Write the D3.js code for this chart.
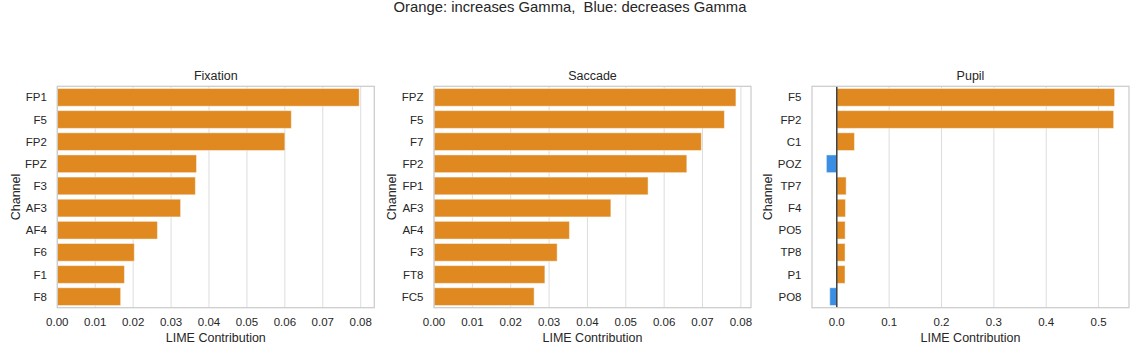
<!DOCTYPE html>
<html>
<head>
<meta charset="utf-8">
<script src="https://d3js.org/d3.v7.min.js"></script>
<style>
  body { margin: 0; background: #fff; }
  text { font-family: "Liberation Sans", Arial, sans-serif; fill: #262626; white-space: pre; }
</style>
</head>
<body>
<div id="chart"></div>
<script>
// LIME contributions
var fixChannels = ["FP1", "F5", "FP2", "FPZ", "F3", "AF3", "AF4", "F6", "F1", "F8"];
var fixValues = [0.0796, 0.0617, 0.0600, 0.0367, 0.0364, 0.0325, 0.0264, 0.0203, 0.0177, 0.0167];

var sacChannels = ["FPZ", "F5", "F7", "FP2", "FP1", "AF3", "AF4", "F3", "FT8", "FC5"];
var sacValues = [0.0787, 0.0757, 0.0697, 0.0659, 0.0558, 0.0461, 0.0353, 0.0321, 0.0289, 0.0261];

var pupChannels = ["F5", "FP2", "C1", "POZ", "TP7", "F4", "PO5", "TP8", "P1", "PO8"];
var pupValues = [0.5306, 0.5288, 0.0338, -0.0198, 0.0179, 0.0166, 0.0160, 0.0158, 0.0157, -0.0134];

var panelTitles = ["Fixation", "Saccade", "Pupil"];
var tickFormats = [".2f", ".2f", ".1f"];
var suptitle = "Orange: increases Gamma,  Blue: decreases Gamma";

var W = 1142, H = 358;
var orange = "#df8920", blue = "#3a8fe3";
var grey = "#cccccc";

var panelLeft = [57.3, 434, 812];
var panelW = 317;
var plotTop = 86.3, plotH = 221.4;

var svg = d3.select("#chart").append("svg")
    .attr("width", W)
    .attr("height", H);

svg.append("text")
    .attr("x", 570)
    .attr("y", 11.5)
    .attr("text-anchor", "middle")
    .style("font-size", "14.8px")
    .text(suptitle);

var panels = [
  {ch: fixChannels, v: fixValues},
  {ch: sacChannels, v: sacValues},
  {ch: pupChannels, v: pupValues}
];

panels.forEach(function (p, k) {
  var lo = Math.min(0, d3.min(p.v)), hi = Math.max(0, d3.max(p.v));
  var pad = (hi - lo) * 0.05;
  var x = d3.scaleLinear()
      .domain([lo < 0 ? lo - pad : 0, hi + pad])
      .range([0, panelW]);
  var y = d3.scaleBand()
      .domain(p.ch)
      .range([0, plotH])
      .paddingInner(0.2)
      .paddingOuter(0.1);

  var g = svg.append("g")
      .attr("transform", "translate(" + panelLeft[k] + "," + plotTop + ")");

  // vertical grid
  var ticks = x.ticks(k == 2 ? 6 : 10).filter(function (t) { return t >= x.domain()[0] - 1e-9; });
  g.selectAll(".grid")
      .data(ticks)
      .enter().append("line")
      .attr("x1", function (d) { return x(d); })
      .attr("x2", function (d) { return x(d); })
      .attr("y1", 0)
      .attr("y2", plotH)
      .attr("stroke", "#dddddd")
      .attr("stroke-width", 1);

  g.selectAll(".bar")
      .data(p.v)
      .enter().append("rect")
      .attr("x", function (d) { return x(Math.min(0, d)); })
      .attr("y", function (d, i) { return y(p.ch[i]); })
      .attr("width", function (d) { return Math.abs(x(d) - x(0)); })
      .attr("height", y.bandwidth())
      .attr("fill", function (d) { return d < 0 ? blue : orange; })
      .attr("stroke", "#ffffff")
      .attr("stroke-opacity", 0.45)
      .attr("stroke-width", 1);

  if (lo < 0) {
    g.append("line")
        .attr("x1", x(0)).attr("x2", x(0))
        .attr("y1", 0).attr("y2", plotH)
        .attr("stroke", "#3f3f3f")
        .attr("stroke-width", 1.5);
  }

  // frame
  g.append("rect")
      .attr("width", panelW)
      .attr("height", plotH)
      .attr("fill", "none")
      .attr("stroke", grey)
      .attr("stroke-width", 1.25);

  // x tick labels
  var fmt = d3.format(tickFormats[k]);
  g.selectAll(".xt")
      .data(ticks)
      .enter().append("text")
      .attr("x", function (d) { return x(d); })
      .attr("y", plotH + 18.5)
      .attr("text-anchor", "middle")
      .style("font-size", "11.5px")
      .text(function (d) { return fmt(d); });

  // y tick labels
  var yl = g.selectAll(".yt")
      .data(p.ch)
      .enter().append("text")
      .attr("x", -10.5)
      .attr("y", function (d) { return y(d) + y.bandwidth() / 2; })
      .attr("dy", "0.35em")
      .attr("text-anchor", "end")
      .style("font-size", "11.5px")
      .text(function (d) { return d; });

  var maxW = 0;
  yl.each(function () { maxW = Math.max(maxW, this.getBBox().width); });

  g.append("text")
      .attr("x", panelW / 2)
      .attr("y", -6)
      .attr("text-anchor", "middle")
      .style("font-size", "12.5px")
      .text(panelTitles[k]);

  g.append("text")
      .attr("x", panelW / 2)
      .attr("y", plotH + 34.5)
      .attr("text-anchor", "middle")
      .style("font-size", "12.5px")
      .text("LIME Contribution");

  g.append("text")
      .attr("transform", "translate(" + (-10.5 - maxW - 5.5) + "," + (plotH / 2) + ") rotate(-90)")
      .attr("text-anchor", "middle")
      .style("font-size", "12.5px")
      .text("Channel");
});
</script>
</body>
</html>
